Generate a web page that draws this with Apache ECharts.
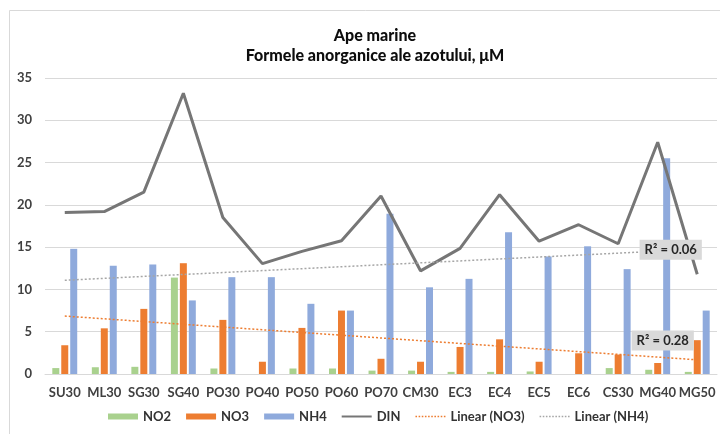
<!DOCTYPE html>
<html><head><meta charset="utf-8">
<script src="https://cdn.jsdelivr.net/npm/echarts@6/dist/echarts.min.js"></script>
<style>html,body{margin:0;padding:0;background:#fff}#c{width:720px;height:434px}</style>
</head><body><div id="c"></div>
<script>
const categories = ['SU30','ML30','SG30','SG40','PO30','PO40','PO50','PO60','PO70','CM30','EC3','EC4','EC5','EC6','CS30','MG40','MG50'];
const no2 = [0.7,0.8,0.85,11.4,0.65,0,0.65,0.65,0.4,0.4,0.25,0.25,0.3,0,0.7,0.5,0.25];
const no3 = [3.4,5.4,7.7,13.1,6.4,1.45,5.45,7.5,1.8,1.45,3.2,4.1,1.45,2.45,2.3,1.3,4.0];
const nh4 = [14.8,12.8,12.95,8.7,11.45,11.45,8.3,7.5,18.95,10.25,11.25,16.75,13.9,15.1,12.4,25.5,7.5];
const din = [19.1,19.2,21.5,33.2,18.5,13.05,14.5,15.75,21.05,12.2,14.85,21.2,15.7,17.65,15.4,27.4,11.8];
const r2LabelNO3 = 'R² = 0.28';
const r2LabelNH4 = 'R² = 0.06';
const yMin = 0, yMax = 35, yStep = 5;

// least-squares linear trend (as Excel "Linear" trendline)
function linearTrend(vals){
  const n = vals.length;
  const xs = vals.map((_,i)=>i+1);
  const mx = xs.reduce((a,b)=>a+b,0)/n, my = vals.reduce((a,b)=>a+b,0)/n;
  let sxy=0,sxx=0;
  for(let i=0;i<n;i++){sxy+=(xs[i]-mx)*(vals[i]-my);sxx+=(xs[i]-mx)*(xs[i]-mx);}
  const b = sxy/sxx, a = my-b*mx;
  return xs.map(x=>+(a+b*x).toFixed(3));
}
const trendNO3 = linearTrend(no3);
const trendNH4 = linearTrend(nh4);

// legend icons drawn as paths (solid line / dotted line)
const solidIcon = 'path://M0,0H30V2H0Z';
let dots = '';
for(let x=0;x<30;x+=3){ dots += 'M'+x+',0h1.5v1.5h-1.5Z'; }
const dotIcon = 'path://' + dots;

const FONT = 'Lato';
const chart = echarts.init(document.getElementById('c'), null, {renderer:'canvas'});
const boxLabel = {
  show:true, position:'inside', fontFamily:FONT, fontWeight:'bold', fontSize:13, color:'#262626',
  backgroundColor:'#d9d9d9', padding:[4,5,3,5]
};
chart.setOption({
  animation:false,
  backgroundColor:'#fff',
  textStyle:{fontFamily:FONT},
  graphic:[{type:'rect', shape:{x:9.5,y:10.5,width:720,height:430}, style:{fill:'none',stroke:'#d9d9d9',lineWidth:1}, z:-10}],
  title:{
    text:'Ape marine\nFormele anorganice ale azotului, μM',
    left:370, top:21, textAlign:'center',
    textStyle:{fontFamily:FONT,fontWeight:900,fontSize:16,color:'#0d0d0d',lineHeight:20}
  },
  grid:{left:45,right:3,top:78,bottom:60,containLabel:false},
  legend:{
    bottom:6, left:103, itemWidth:30, itemHeight:6, itemGap:15,
    textStyle:{fontFamily:FONT,fontWeight:'bold',fontSize:13,color:'#333333'},
    data:[{name:'NO2',icon:'rect'},{name:'NO3',icon:'rect'},{name:'NH4',icon:'rect'},
          {name:'DIN',icon:solidIcon},{name:'Linear (NO3)',icon:dotIcon},{name:'Linear (NH4)',icon:dotIcon}]
  },
  xAxis:{
    type:'category', data:categories,
    axisLine:{lineStyle:{color:'#d9d9d9'}}, axisTick:{show:false},
    axisLabel:{fontFamily:FONT,fontWeight:'bold',fontSize:13,color:'#404040',margin:12,interval:0}
  },
  yAxis:{
    type:'value', min:yMin, max:yMax, interval:yStep,
    axisLine:{show:false}, axisTick:{show:false},
    splitLine:{lineStyle:{color:'#d9d9d9',width:1}},
    axisLabel:{fontFamily:FONT,fontWeight:'bold',fontSize:13,color:'#404040',margin:13}
  },
  series:[
    {name:'NO2',type:'bar',data:no2,barWidth:7,barGap:'28%',itemStyle:{color:'#a9d18e'},z:2},
    {name:'NO3',type:'bar',data:no3,barWidth:7,barGap:'28%',itemStyle:{color:'#ed7d31'},z:2},
    {name:'NH4',type:'bar',data:nh4,barWidth:7,barGap:'28%',itemStyle:{color:'#8faadc'},z:2},
    {name:'DIN',type:'line',data:din,showSymbol:false,symbol:'none',lineStyle:{color:'#767676',width:3},itemStyle:{color:'#767676'},z:3},
    {name:'Linear (NO3)',type:'line',data:trendNO3,showSymbol:false,symbol:'none',
     lineStyle:{color:'#ed7d31',width:1.5,type:[2,2]},itemStyle:{color:'#ed7d31'},z:4,
     markPoint:{symbol:'rect',symbolSize:0,z:10,data:[{coord:['MG40',3.95],label:Object.assign({},boxLabel,{formatter:r2LabelNO3,offset:[5,0]})}]}},
    {name:'Linear (NH4)',type:'line',data:trendNH4,showSymbol:false,symbol:'none',
     lineStyle:{color:'#a6a6a6',width:1.5,type:[2,2]},itemStyle:{color:'#a6a6a6'},z:4,
     markPoint:{symbol:'rect',symbolSize:0,z:10,data:[{coord:['MG40',14.7],label:Object.assign({},boxLabel,{formatter:r2LabelNH4,offset:[13,0]})}]}}
  ]
});
</script></body></html>
